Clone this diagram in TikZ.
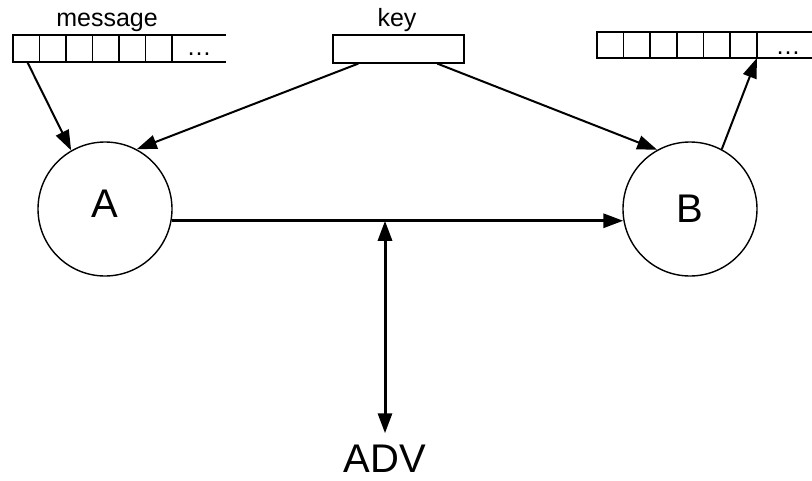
\documentclass[tikz,border=0pt]{standalone}
\usepackage{fontspec}
\setmainfont{Liberation Sans}
\usetikzlibrary{arrows.meta}
\begin{document}
\begin{tikzpicture}[x=1pt,y=-1pt,
  cell/.style={draw,line width=1.6pt,minimum width=26.6pt,minimum height=27pt,inner sep=0pt,outer sep=0pt},
  party/.style={draw,circle,line width=1.4pt,minimum size=134pt,inner sep=0pt},
  lbl/.style={font=\fontsize{25}{25}\selectfont,anchor=base,inner sep=0pt},
  big/.style={font=\fontsize{40}{40}\selectfont,anchor=base,inner sep=0pt},
  tip/.style={Triangle[length=20pt,width=14pt]},
  thin/.style={line width=2pt,-{Triangle[length=20pt,width=14pt]}},
  thick/.style={line width=3pt,-{Triangle[length=20pt,width=14pt]}}]
\useasboundingbox (0,0) rectangle (812,480);
% message array
\foreach \i in {1,...,6}{
  \node[cell,anchor=north west] (m\i) at ({13+26.5*(\i-1)},35) {};
}
\draw[line width=1.6pt] (m6.north east) -- (226,35);
\draw[line width=1.6pt] (m6.south east) -- (226,62);
\node[lbl] (mdots) at (199,55) {…};
\node[lbl] (msg) at (107,26) {message};
% output array
\foreach \i in {1,...,6}{
  \node[cell,minimum height=26pt,anchor=north west] (o\i) at ({597+26.67*(\i-1)},32) {};
}
\draw[line width=1.6pt] (o6.north east) -- (812,32);
\draw[line width=1.6pt] (o6.south east) -- (812,58);
\node[lbl] (odots) at (788,54) {…};
% key
\node[draw,line width=1.6pt,minimum width=131pt,minimum height=28pt,inner sep=0pt,anchor=north west] (key) at (332,34) {};
\node[lbl] (keyt) at (397,26) {key};
% parties
\node[party] (A) at (105,209) {};
\node[big] (At) at (105,217) {A};
\node[party] (B) at (690,209) {};
\node[big] (Bt) at (690,222) {B};
\node[big] (adv) at (385,472) {ADV};
% connectors
\coordinate (ms) at ([xshift=1pt]m1.south);
\draw[thin] (ms) -- (A.120);
\coordinate (k1) at ([xshift=-40pt]key.south);
\coordinate (k2) at ([xshift=39pt]key.south);
\draw[thin] (k1) -- (A.62);
\draw[thin] (k2) -- (B.119);
\draw[thin] (B.62) -- (o6.south east);
\draw[thick] (A.-10) -- (B.190);
\coordinate (mid) at (adv.north |- A.-10);
\draw[thick,{Triangle[length=20pt,width=14pt]}-{Triangle[length=20pt,width=14pt]}] ([yshift=11pt]adv.north) -- (mid);
\end{tikzpicture}
\end{document}
